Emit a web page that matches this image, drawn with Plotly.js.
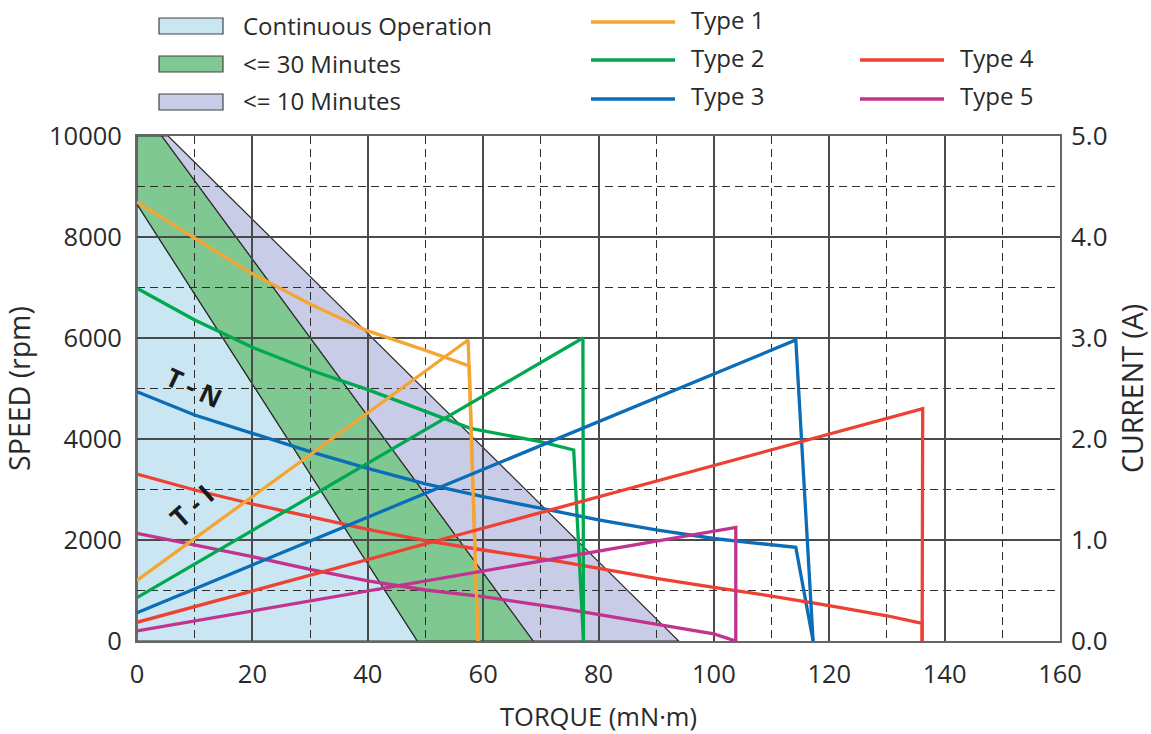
<!DOCTYPE html>
<html><head><meta charset="utf-8">
<script src="https://cdn.plot.ly/plotly-3.0.1.min.js"></script>
<style>html,body{margin:0;padding:0;background:#fff}#chart{width:1151px;height:734px}</style>
</head><body><div id="chart"></div>
<script>
// ---------- data (torque in mN·m, speed in rpm, current in A) ----------
const typeNames = ['Type 1','Type 2','Type 3','Type 4','Type 5'];
const typeColors = ['#F4A533','#00A850','#0B6DB7','#EC4134','#C1338F'];

const t1_tn_torque = [0,10,20,30,40,50,57.6,59.1];
const t1_tn_speed  = [8690,7980,7270,6675,6140,5756,5446,0];
const t1_ti_torque = [0,57.4,59.1];
const t1_ti_current= [0.60,2.98,0];

const t2_tn_torque = [0,10,20,30,40,45.6,57.8,69.9,75.7,77.4];
const t2_tn_speed  = [6985,6356,5815,5366,4977,4740,4211,3947,3782,0];
const t2_ti_torque = [0,77.3,77.4];
const t2_ti_current= [0.43,3.00,0];

const t3_tn_torque = [0,10,20,30,40,50,60,73.4,80,90,100,106.3,114.2,117.2];
const t3_tn_speed  = [4937,4475,4112,3749,3420,3110,2857,2545,2400,2200,2030,1950,1855,0];
const t3_ti_torque = [0,114.2,117.2];
const t3_ti_current= [0.28,2.98,0];

const t4_tn_torque = [0,10,20,30,40,50,60,73.4,90,100,110,120,130,136.1,136.1];
const t4_tn_speed  = [3307,2990,2713,2462,2212,1990,1802,1570,1241,1063,890,700,500,350,0];
const t4_ti_torque = [0,136.2,136.1];
const t4_ti_current= [0.185,2.30,0];

const t5_tn_torque = [0,10,20,30,40,50,60,73.4,90,100,103.8];
const t5_tn_speed  = [2132,1900,1670,1420,1190,1010,877,650,337,139,0];
const t5_ti_torque = [0,103.8,103.8];
const t5_ti_current= [0.10,1.125,0];

// operating regions (polygon vertices: torque, speed)
const regionNames  = ['Continuous Operation','<= 30 Minutes','<= 10 Minutes'];
const regionColors = ['#CAE6F2','#80C891','#C8CCE6'];
const cont_torque  = [0,0,48.6];
const cont_speed   = [0,8650,0];
const min30_torque = [0,0,4.3,68.7,48.6];
const min30_speed  = [8650,10000,10000,0,0];
const min10_torque = [4.3,5.4,93.9,68.7];
const min10_speed  = [10000,10000,0,0];

const xTicks = [0,20,40,60,80,100,120,140,160];
const yTicks = [0,2000,4000,6000,8000,10000];
const y2Ticks = [0,1,2,3,4,5];

// ---------- build ----------
const FONT = 'Open Sans, Noto Sans, sans-serif';
const TXT = '#2a2a2a';
const tn = [[t1_tn_torque,t1_tn_speed],[t2_tn_torque,t2_tn_speed],[t3_tn_torque,t3_tn_speed],[t4_tn_torque,t4_tn_speed],[t5_tn_torque,t5_tn_speed]];
const ti = [[t1_ti_torque,t1_ti_current],[t2_ti_torque,t2_ti_current],[t3_ti_torque,t3_ti_current],[t4_ti_torque,t4_ti_current],[t5_ti_torque,t5_ti_current]];

const traces = [];
for (let i=0;i<5;i++){
  traces.push({x:tn[i][0],y:tn[i][1],mode:'lines',name:typeNames[i]+' T-N',line:{color:typeColors[i],width:3.3},showlegend:false,xaxis:'x',yaxis:'y',hoverinfo:'x+y'});
  traces.push({x:ti[i][0],y:ti[i][1],mode:'lines',name:typeNames[i]+' T-I',line:{color:typeColors[i],width:3.3},showlegend:false,xaxis:'x',yaxis:'y2',hoverinfo:'x+y'});
}

function poly(xs,ys){ let p='M'+xs[0]+','+ys[0]; for(let i=1;i<xs.length;i++) p+=' L'+xs[i]+','+ys[i]; return p+' Z'; }
const regs = [[cont_torque,cont_speed],[min30_torque,min30_speed],[min10_torque,min10_speed]];
const shapes = [];
regs.forEach((r,i)=>{
  shapes.push({type:'path',xref:'x',yref:'y',path:poly(r[0],r[1]),fillcolor:regionColors[i],line:{color:'#2b2b2b',width:1.2},layer:'below'});
});

// custom legend (pixel positions -> paper)
const PL=137,PR=1060,PT=136,PB=641;
const px=v=>(v-PL)/(PR-PL), py=v=>(PB-v)/(PB-PT);
const annotations=[];
const boxY=[26,64,102];
regs.forEach((r,i)=>{
  shapes.push({type:'rect',xref:'paper',yref:'paper',x0:px(159),x1:px(223),y0:py(boxY[i]-8),y1:py(boxY[i]+8),fillcolor:regionColors[i],line:{color:'#444',width:1.2}});
  annotations.push({xref:'paper',yref:'paper',x:px(241),y:py(boxY[i]-1),text:regionNames[i],showarrow:false,xanchor:'left',yanchor:'middle',font:{family:FONT,size:24,color:TXT}});
});
const legPos=[[591,22],[591,60],[591,99],[860,60],[860,99]];
for(let i=0;i<5;i++){
  const [lx,ly]=legPos[i];
  shapes.push({type:'line',xref:'paper',yref:'paper',x0:px(lx),x1:px(lx+84),y0:py(ly),y1:py(ly),line:{color:typeColors[i],width:3.4}});
  annotations.push({xref:'paper',yref:'paper',x:px(lx+98),y:py(ly-3),text:typeNames[i],showarrow:false,xanchor:'left',yanchor:'middle',font:{family:FONT,size:24,color:TXT}});
}
annotations.push({xref:'x',yref:'y',x:9.8,y:5020,text:'<b>T - N</b>',showarrow:false,textangle:25,font:{family:FONT,size:26,color:'#1a1a1a'}});
annotations.push({xref:'x',yref:'y',x:9.5,y:2680,text:'<b>T - I</b>',showarrow:false,textangle:-42,font:{family:FONT,size:27,color:'#1a1a1a'}});

const majC='#4a4a4a', minC='#2e2e2e';
const layout={
  width:1151,height:734,autosize:false,
  margin:{l:PL,r:1151-PR,t:PT,b:734-PB,pad:0},
  paper_bgcolor:'#fff',plot_bgcolor:'rgba(0,0,0,0)',
  showlegend:false,
  font:{family:FONT,size:24,color:TXT},
  xaxis:{range:[0,160],tickvals:xTicks,ticktext:xTicks.map(String),showgrid:true,gridcolor:majC,gridwidth:2,
    minor:{dtick:10,tick0:0,showgrid:true,gridcolor:minC,gridwidth:1,griddash:'8px,5px'},
    zeroline:false,showline:true,mirror:true,linecolor:'#666',linewidth:2,ticks:'',ticklabelstandoff:9,
    tickfont:{family:FONT,size:25.5,color:TXT},
    title:{text:'TORQUE (mN·m)',font:{family:FONT,size:25.5,color:TXT},standoff:20},automargin:false},
  yaxis:{range:[0,10000],tickvals:yTicks,ticktext:yTicks.map(String),showgrid:true,gridcolor:majC,gridwidth:2,
    minor:{dtick:1000,tick0:0,showgrid:true,gridcolor:minC,gridwidth:1,griddash:'8px,5px'},
    zeroline:false,showline:true,mirror:true,linecolor:'#666',linewidth:2,ticks:'',ticklabelstandoff:8,
    tickfont:{family:FONT,size:25.5,color:TXT},
    title:{text:'SPEED (rpm)',font:{family:FONT,size:28.5,color:TXT},standoff:13},automargin:false},
  yaxis2:{range:[0,5],overlaying:'y',side:'right',tickvals:y2Ticks,ticktext:y2Ticks.map(v=>v.toFixed(1)),showgrid:false,zeroline:false,
    showline:false,ticks:'',ticklabelstandoff:10,tickfont:{family:FONT,size:26,color:TXT},
    title:{text:'CURRENT (A)',font:{family:FONT,size:28.5,color:TXT},standoff:20},automargin:false},
  shapes:shapes,annotations:annotations
};
Plotly.newPlot('chart',traces,layout,{displayModeBar:false});
</script></body></html>
